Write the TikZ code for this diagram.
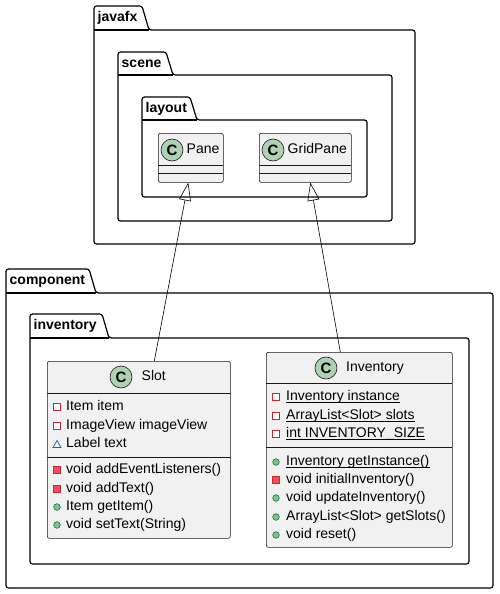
\documentclass[tikz,border=0pt]{standalone}
\usepackage{fontspec}
\setmainfont{Liberation Sans}
\usetikzlibrary{arrows.meta,calc}
\definecolor{clsfill}{HTML}{F1F1F1}
\definecolor{clsline}{HTML}{181818}
\definecolor{circfill}{HTML}{ADD1B2}
\definecolor{privc}{HTML}{C82930}
\definecolor{privf}{HTML}{F24D5C}
\definecolor{pubc}{HTML}{038048}
\definecolor{pubf}{HTML}{84BE84}
\definecolor{pkgc}{HTML}{1963A0}
\tikzset{
  pkgline/.style={draw=black, line width=1.2pt, fill=white, rounded corners=2.5pt},
  pkgname/.style={anchor=west, font=\fontsize{14}{16}\selectfont\bfseries, inner sep=0pt},
  clsbox/.style={draw=clsline, fill=clsfill, line width=0.6pt, rounded corners=2pt, anchor=north west, inner sep=0pt},
  sepline/.style={draw=clsline, line width=0.6pt},
  member/.style={anchor=west, font=\fontsize{14}{16}\selectfont, inner sep=0pt, text height=10pt, text depth=3pt},
  ctitle/.style={anchor=west, font=\fontsize{14}{16}\selectfont, inner sep=0pt, text height=10pt, text depth=3pt},
  cicon/.style={circle, draw=clsline, fill=circfill, line width=0.6pt, minimum size=22pt, inner sep=0pt, font=\fontsize{15}{16}\selectfont\bfseries},
  inherit/.style={draw=black, line width=0.6pt, -{Triangle[open,length=18pt,width=12pt]}},
  uline/.style={draw=black, line width=0.6pt},
}
\newcommand{\pkgbox}[7]{%
  \path[pkgline] (#1,#4) -- (#1,#2) -- (#3,#2) -- ($(#3,#2)+(7,#4-#2)$) -- (#5,#4) -- (#5,#6) -- (#1,#6) -- cycle;
  \draw[line width=1.2pt] (#1,#4) -- ($(#3,#2)+(7,#4-#2)$);
  \node[pkgname] at (#1+3.5,{(#2+#4)/2}) {#7};
}
\newcommand{\privfield}[2]{\draw[privc, line width=0.7pt, fill=white] (#1-3.3,#2-3.3) rectangle (#1+3.3,#2+3.3);}
\newcommand{\privmeth}[2]{\draw[privc, line width=0.7pt, fill=privf] (#1-3.5,#2-3.5) rectangle (#1+3.5,#2+3.5);}
\newcommand{\pubmeth}[2]{\draw[pubc, line width=0.6pt, fill=pubf] (#1,#2) circle (3.3);}
\newcommand{\pkgmeth}[2]{\draw[pkgc, line width=0.7pt] (#1-4,#2+3.5) -- (#1,#2-3.5) -- (#1+4,#2+3.5) -- cycle;}
\newcommand{\ul}[1]{\draw[uline] ($(#1.base west)+(0,2)$) -- ($(#1.base east)+(0,2)$);}
\begin{document}
\begin{tikzpicture}[x=1pt,y=-1pt]
\useasboundingbox (0,0) rectangle (499,594);
% packages
\pkgbox{94}{6}{142}{30}{415}{244}{javafx}
\pkgbox{118}{52}{166}{75}{392}{221}{scene}
\pkgbox{142}{97}{190}{120}{367}{197}{layout}
\pkgbox{6}{269}{89}{293}{493}{588}{component}
\pkgbox{30}{314}{102}{338}{469}{564}{inventory}
% Pane
\node[clsbox, minimum width=65pt, minimum height=49pt] (pane) at (158,133) {};
\draw[sepline] (158,165) -- (223,165);
\draw[sepline] (158,173) -- (223,173);
\node[cicon] (paneC) at (172,150) {C};
\node[ctitle] (paneT) at (186.5,150) {Pane};
% GridPane
\node[clsbox, minimum width=92pt, minimum height=49pt] (grid) at (259,133) {};
\draw[sepline] (259,165) -- (351,165);
\draw[sepline] (259,173) -- (351,173);
\node[cicon] (gridC) at (273,150) {C};
\node[ctitle] (gridT) at (287.5,150) {GridPane};
% Slot
\node[clsbox, minimum width=183pt, minimum height=177pt] (slot) at (47,361) {};
\draw[sepline] (47,393) -- (230,393);
\draw[sepline] (47,457) -- (230,457);
\node[cicon] (slotC) at (121,377) {C};
\node[ctitle] (slotT) at (141.5,377) {Slot};
\privfield{57}{407}\node[member] (s1) at (66,407) {Item item};
\privfield{57}{426}\node[member] (s2) at (66,426) {ImageView imageView};
\pkgmeth{57}{444}\node[member] (s3) at (66,444) {Label text};
\privmeth{57}{470}\node[member] (s4) at (66,470) {void addEventListeners()};
\privmeth{57}{489}\node[member] (s5) at (66,489) {void addText()};
\pubmeth{57}{507}\node[member] (s6) at (66,507) {Item getItem()};
\pubmeth{57}{525}\node[member] (s7) at (66,525) {void setText(String)};
% Inventory
\node[clsbox, minimum width=186pt, minimum height=195pt] (inv) at (266,352) {};
\draw[sepline] (266,383) -- (452,383);
\draw[sepline] (266,447) -- (452,447);
\node[cicon] (invC) at (326,368) {C};
\node[ctitle] (invT) at (346,368) {Inventory};
\privfield{276}{397}\node[member] (i1) at (286,397) {Inventory instance};\ul{i1}
\privfield{276}{416}\node[member] (i2) at (286,416) {ArrayList<Slot> slots};\ul{i2}
\privfield{276}{434}\node[member] (i3) at (286,434) {int INVENTORY\_SIZE};\ul{i3}
\pubmeth{276}{462}\node[member] (i4) at (286,462) {Inventory getInstance()};\ul{i4}
\privmeth{276}{480}\node[member] (i5) at (286,480) {void initialInventory()};
\pubmeth{276}{498}\node[member] (i6) at (286,498) {void updateInventory()};
\pubmeth{276}{517}\node[member] (i7) at (286,517) {ArrayList<Slot> getSlots()};
\pubmeth{276}{535}\node[member] (i8) at (286,535) {void reset()};
% inheritance
\draw[inherit] ($(slot.north)+(15.5,0)$) -- ($(pane.south)+(-2.5,0)$);
\draw[inherit] ($(inv.north)+(-19,0)$) -- ($(grid.south)+(5,0)$);
\end{tikzpicture}
\end{document}
